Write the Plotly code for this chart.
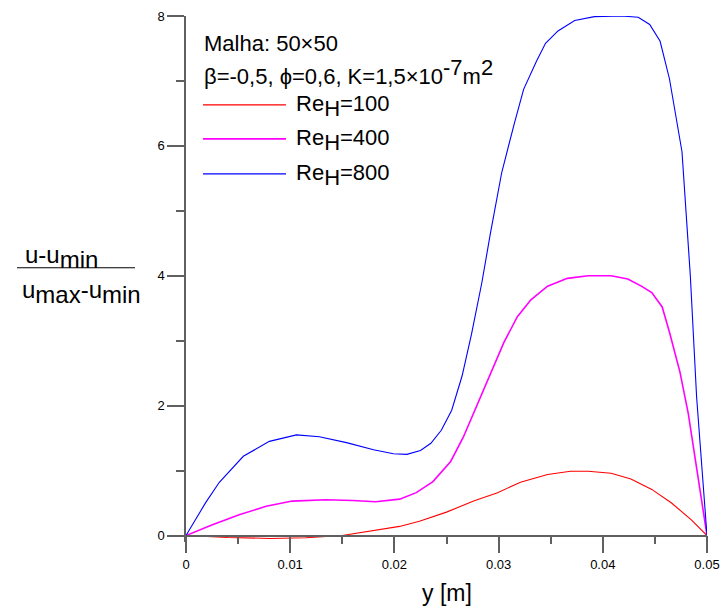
import plotly.graph_objects as go

# ---------------- data ----------------
series_names = ["Re<sub>H</sub>=100", "Re<sub>H</sub>=400", "Re<sub>H</sub>=800"]
series_colors = ["#ff0000", "#ff00ff", "#0000ff"]
series_widths = [1.1, 1.6, 1.1]

y_re100 = [0, 0.004, 0.008, 0.0115, 0.015, 0.0179, 0.0205, 0.0224, 0.025, 0.0276,
           0.0299, 0.0321, 0.0347, 0.0369, 0.0386, 0.0408, 0.0427, 0.0447, 0.0466,
           0.0485, 0.05]
u_re100 = [0, -0.03, -0.045, -0.035, 0.0, 0.07, 0.14, 0.22, 0.36, 0.53,
           0.66, 0.82, 0.94, 0.99, 0.99, 0.96, 0.87, 0.71, 0.50,
           0.24, 0]

y_re400 = [0, 0.0026, 0.0051, 0.0077, 0.0102, 0.0134, 0.016, 0.0182, 0.0205, 0.0221,
           0.0237, 0.0254, 0.0266, 0.0279, 0.0292, 0.0305, 0.0318, 0.0331, 0.0347,
           0.0366, 0.0386, 0.0408, 0.0424, 0.0437, 0.0447, 0.0457, 0.0464, 0.0474,
           0.0482, 0.0491, 0.05]
u_re400 = [0, 0.17, 0.32, 0.45, 0.53, 0.55, 0.54, 0.52, 0.56, 0.66,
           0.83, 1.14, 1.51, 1.99, 2.49, 2.97, 3.37, 3.63, 3.84,
           3.96, 4.0, 4.0, 3.95, 3.84, 3.74, 3.52, 3.13, 2.52,
           1.88, 0.92, 0]

y_re800 = [0, 0.0019, 0.0032, 0.0055, 0.008, 0.0106, 0.0128, 0.0154, 0.018, 0.0199,
           0.0212, 0.0225, 0.0235, 0.0245, 0.0255, 0.0265, 0.0274, 0.0284, 0.0292,
           0.0303, 0.0315, 0.0324, 0.0336, 0.0345, 0.0357, 0.0373, 0.0392, 0.0418,
           0.0434, 0.0445, 0.0455, 0.0464, 0.0476, 0.0484, 0.0490, 0.05]
u_re800 = [0, 0.51, 0.82, 1.22, 1.45, 1.55, 1.52, 1.43, 1.32, 1.26,
           1.25, 1.31, 1.42, 1.62, 1.93, 2.46, 3.10, 3.90, 4.64,
           5.59, 6.34, 6.87, 7.29, 7.58, 7.77, 7.93, 7.99, 8.0,
           7.98, 7.87, 7.61, 7.03, 5.91, 4.0, 2.14, 0]

x_ticks = [0, 0.01, 0.02, 0.03, 0.04, 0.05]
y_ticks = [0, 2, 4, 6, 8]

# ---------------- layout helpers ----------------
W, H = 722, 614
L, R, T = 186, 707, 16
Y_MIN, Y_MAX = -0.1, 8
PX_PER_UNIT = 65.0
B = T + (Y_MAX - Y_MIN) * PX_PER_UNIT


def px(xp):
    return (xp - L) / (R - L)


def py(yp):
    return (B - yp) / (B - T)


FONT = "Liberation Sans, Arial, sans-serif"
AXC = "#606060"
BIG = 22
FRAC = 24

fig = go.Figure()
ys = [y_re100, y_re400, y_re800]
us = [u_re100, u_re400, u_re800]
for name, c, w, yy, uu in zip(series_names, series_colors, series_widths, ys, us):
    fig.add_trace(go.Scatter(x=yy, y=uu, mode="lines", name=name,
                             line=dict(color=c, width=w), showlegend=False))

annotations = []
shapes = []


def sub(t, size=BIG):
    return "<sub><span style='font-size:%dpx'>%s</span></sub>" % (size, t)


def sup(t, size=BIG):
    return "<sup><span style='font-size:%dpx'>%s</span></sup>" % (size, t)


# header text
annotations.append(dict(x=px(202), y=py(44), xref="paper", yref="paper",
                        text="Malha: 50×50", showarrow=False, xanchor="left",
                        yanchor="middle", font=dict(size=BIG, color="black", family=FONT)))
annotations.append(dict(x=px(202), y=py(72), xref="paper", yref="paper",
                        text="β=-0,5, ϕ=0,6, K=1,5×10" + sup("-7") + "m" + sup("2"),
                        showarrow=False, xanchor="left", yanchor="middle",
                        font=dict(size=BIG, color="black", family=FONT)))

# manual legend
leg_rows = [105, 139, 174]
for name, c, w, ry in zip(series_names, series_colors, series_widths, leg_rows):
    shapes.append(dict(type="line", xref="paper", yref="paper",
                       x0=px(203), x1=px(286), y0=py(ry), y1=py(ry),
                       line=dict(color=c, width=w + 0.3)))
    annotations.append(dict(x=px(294), y=py(ry + 1), xref="paper", yref="paper",
                            text=name.replace("<sub>H</sub>", sub("H")),
                            showarrow=False, xanchor="left", yanchor="middle",
                            font=dict(size=BIG, color="black", family=FONT)))

# y-axis fraction label
annotations.append(dict(x=px(61), y=py(257), xref="paper", yref="paper",
                        text="u-u" + sub("min", FRAC), showarrow=False,
                        xanchor="center", yanchor="middle",
                        font=dict(size=FRAC, color="black", family=FONT)))
shapes.append(dict(type="line", xref="paper", yref="paper",
                   x0=px(17), x1=px(135), y0=py(268), y1=py(268),
                   line=dict(color="black", width=1)))
annotations.append(dict(x=px(81), y=py(292), xref="paper", yref="paper",
                        text="u" + sub("max", FRAC) + "-u" + sub("min", FRAC),
                        showarrow=False, xanchor="center", yanchor="middle",
                        font=dict(size=FRAC, color="black", family=FONT)))

# x title
annotations.append(dict(x=0.5, y=py(594), xref="paper", yref="paper",
                        text="y [m]", showarrow=False, xanchor="center",
                        yanchor="middle", font=dict(size=23, color="black", family=FONT)))

axis_common = dict(showline=True, linecolor=AXC, linewidth=1.5, ticks="outside",
                   ticklen=17, tickwidth=1.5, tickcolor=AXC, showgrid=False,
                   zeroline=False, mirror=False, automargin=False,
                   tickfont=dict(size=13, color="black", family=FONT))

fig.update_layout(
    width=W, height=H,
    margin=dict(l=L, r=W - R, t=T, b=H - B, pad=0, autoexpand=False),
    paper_bgcolor="white", plot_bgcolor="white",
    showlegend=False,
    xaxis=dict(range=[0, 0.05], tickvals=x_ticks,
               ticktext=[("%g" % v) for v in x_ticks],
               anchor="free", position=(0 - Y_MIN) / (Y_MAX - Y_MIN),
               minor=dict(dtick=0.005, tick0=0, ticklen=8, tickwidth=1.5,
                          tickcolor=AXC, ticks="outside"),
               **axis_common),
    yaxis=dict(range=[Y_MIN, Y_MAX], tickvals=y_ticks,
               ticktext=[str(v) for v in y_ticks],
               minor=dict(dtick=1, tick0=0, ticklen=8, tickwidth=1.5,
                          tickcolor=AXC, ticks="outside"),
               **axis_common),
    annotations=annotations,
    shapes=shapes,
)

fig.write_html("out.html", config={"displayModeBar": False},
               post_script="document.body.style.margin='0';document.body.style.overflow='hidden';")
